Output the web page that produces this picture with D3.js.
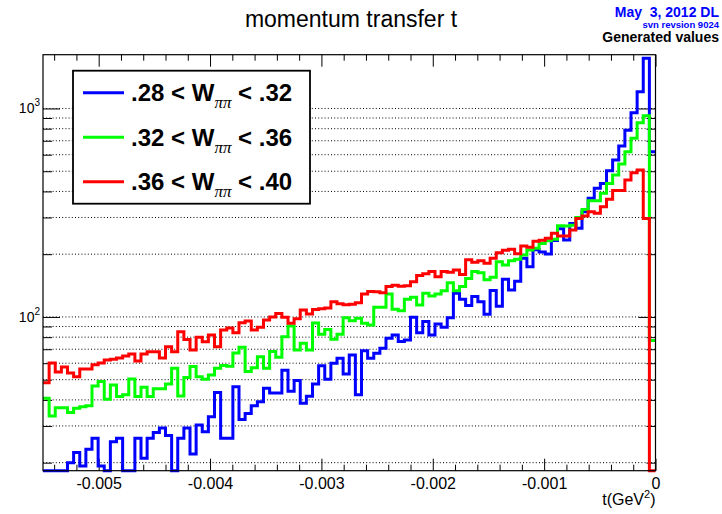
<!DOCTYPE html>
<html><head><meta charset="utf-8">
<script src="https://cdn.jsdelivr.net/npm/d3@7"></script>
<style>
body{margin:0;background:#fff}
svg{display:block}
text{font-family:"Liberation Sans",Arial,Helvetica,sans-serif}
</style>
</head><body>
<svg id="c" width="722" height="514"></svg>
<script>
// ---- data (100 bins from -0.0055 to 0) ----
const binLow = -0.0055, binHigh = 0, nBins = 100;
const blueVals = [17,17,17,17,20,22.4,19.3,23.2,26.2,19.3,
  17,25.2,26.2,17,17,26.2,21,26.2,27.9,29.3,
  27,17,26.2,29.3,22,30.3,28.1,33.2,43.4,26.2,
  26.2,46.3,32.2,34.4,37.5,39.2,45.5,43.2,43.2,55.5,
  44,49.5,38.5,41.6,47.7,58.4,50.3,60,63.4,53.2,
  65.7,42.3,68.9,63.4,67,70.8,79,82,76.2,77.6,
  99.7,84,95,82,92.6,89.2,99,130,121.6,113.5,
  125.5,118.4,103,134,112.5,151.6,134.8,148.5,191,174.3,
  210,205,200.6,232.4,265,234,281,266,320,371,
  414,437,502,566,661,787,954,1203,1740,620];
const greenVals = [40.7,33.5,36.7,36.7,34.8,36.5,37.1,37.5,46.7,49,
  40.3,47.2,41.5,42.3,50.4,41.5,46,41.5,45.2,45.2,
  47.7,56.7,41.8,51.2,57.9,51.7,50.3,52.7,56.7,58.5,
  58,67.2,71.5,54.7,57,64.5,56.7,68.2,64,80.4,
  90.5,69.5,74.8,69.5,93.6,82.5,87,78.2,82.5,99,
  96,98.6,93.3,91.5,111.3,111.3,128.9,108.9,107.2,121.6,
  124.3,114,130,126,129,133.7,146,133.7,139.8,153,
  165,163,150.7,155,184,177.5,186,189,198,209.7,
  213.5,225,232,236,274,273,275,300,328,361,
  361,392,437,480,542,620,719,854,922,77];
const redVals = [48.3,60.2,54.5,57.6,53.9,51.6,56.3,56.3,58.9,60.2,
  62.2,62.6,63.6,65,66.5,61.5,66.5,68,68,63.6,
  72,68,85,78,69.5,80,76,82,72,86.6,
  88.5,84,93.8,95.5,86.6,89.2,96.8,100,104,99.7,
  93.3,98,108,103.4,108.5,109.5,110.5,118.4,115.8,114.5,
  115,117.1,129,132.3,132,130.8,140,142,140.5,141,
  147.7,158,161,165,156,165,164,168,160,188,
  183,186,181,191,203,209,211,201,219,216,
  231,233,238.6,252,244.5,244.5,261.4,297,305,320,
  314,338,367,404,404,454,492,507,297,0];
const seriesNames = [".28 < W", ".32 < W", ".36 < W"];
const seriesTails = [" < .32", " < .36", " < .40"];
const seriesColors = ["#0000ff", "#00ff00", "#ff0000"];
const xMajorTicks = [-0.005, -0.004, -0.003, -0.002, -0.001, 0];
const yMajorTicks = [100, 1000];
const yMinorTicks = [20,30,40,50,60,70,80,90,200,300,400,500,600,700,800,900];

// ---- layout ----
const svg = d3.select("#c");
const L = 43, R = 655.5, T = 54.7, B = 470.7;
const x = d3.scaleLinear().domain([binLow, binHigh]).range([L, R]);
const y = d3.scaleLog().domain([18.3, 1811]).range([B, T]);
const xMinorTicks = d3.range(-27, 1).map(i => i * 0.0002).filter(d => Math.abs(Math.round(d * 1000) - d * 1000) > 1e-6);

// grid (horizontal dotted)
svg.append("g").selectAll("line").data(yMajorTicks.concat(yMinorTicks)).join("line")
  .attr("x1", L).attr("x2", R).attr("y1", d => y(d)).attr("y2", d => y(d))
  .attr("stroke", "#000").attr("stroke-width", 1).attr("stroke-dasharray", "1,2.2");

// axes via d3 axis generators (inward ticks)
function clean(g){ g.select(".domain").remove(); g.selectAll(".tick line").attr("stroke","#000").attr("stroke-width",1); return g; }
const fmt = d => d === 0 ? "0" : d.toFixed(3);
const gxb = svg.append("g").attr("transform", `translate(0,${B})`)
  .call(d3.axisBottom(x).tickValues(xMajorTicks).tickSize(-12).tickPadding(7).tickFormat(fmt));
clean(gxb).selectAll("text").attr("font-size", 16).attr("fill", "#000")
  .attr("font-family", '"Liberation Sans",Arial,sans-serif');
clean(svg.append("g").attr("transform", `translate(0,${B})`)
  .call(d3.axisBottom(x).tickValues(xMinorTicks).tickSize(-6).tickFormat("")));
clean(svg.append("g").attr("transform", `translate(0,${T})`)
  .call(d3.axisTop(x).tickValues(xMajorTicks).tickSize(-12).tickFormat("")));
clean(svg.append("g").attr("transform", `translate(0,${T})`)
  .call(d3.axisTop(x).tickValues(xMinorTicks).tickSize(-6).tickFormat("")));
clean(svg.append("g").attr("transform", `translate(${L},0)`)
  .call(d3.axisLeft(y).tickValues(yMajorTicks).tickSize(-17).tickFormat("")));
clean(svg.append("g").attr("transform", `translate(${L},0)`)
  .call(d3.axisLeft(y).tickValues(yMinorTicks).tickSize(-9).tickFormat("")));
clean(svg.append("g").attr("transform", `translate(${R},0)`)
  .call(d3.axisRight(y).tickValues(yMajorTicks).tickSize(-17).tickFormat("")));
clean(svg.append("g").attr("transform", `translate(${R},0)`)
  .call(d3.axisRight(y).tickValues(yMinorTicks).tickSize(-9).tickFormat("")));

// y labels 10^n
yMajorTicks.forEach(v => {
  const t = svg.append("text").attr("x", 40).attr("y", y(v) + 5).attr("text-anchor", "end")
    .attr("font-size", 14);
  t.append("tspan").text("10");
  t.append("tspan").attr("dy", -7).attr("font-size", 10).text(String(Math.round(Math.log10(v))));
});

// x title
const xt = svg.append("text").attr("x", R).attr("y", 505).attr("text-anchor", "end").attr("font-size", 16);
xt.append("tspan").text("t(GeV");
xt.append("tspan").attr("dy", -7).attr("font-size", 11).text("2");
xt.append("tspan").attr("dy", 7).text(")");

// histograms (step outlines)
const edge = k => binLow + (binHigh - binLow) * k / nBins;
const yc = v => (v <= y.domain()[0]) ? B : Math.max(T, y(v));
const line = d3.line().x(d => x(d[0])).y(d => yc(d[1]));
[blueVals, greenVals, redVals].forEach((vals, s) => {
  const pts = [];
  vals.forEach((v, k) => { pts.push([edge(k), v]); pts.push([edge(k + 1), v]); });
  svg.append("path").attr("d", line(pts)).attr("fill", "none")
    .attr("stroke", seriesColors[s]).attr("stroke-width", 3).attr("stroke-linejoin", "miter");
});

// frame
svg.append("rect").attr("x", L).attr("y", T).attr("width", R - L).attr("height", B - T)
  .attr("fill", "none").attr("stroke", "#000").attr("stroke-width", 1.2);

// legend
const lg = svg.append("g");
lg.append("rect").attr("x", 73).attr("y", 70.7).attr("width", 237).attr("height", 133)
  .attr("fill", "#fff").attr("stroke", "#000").attr("stroke-width", 1.8);
const legY = [92.7, 137.3, 181.7];
seriesNames.forEach((name, i) => {
  lg.append("line").attr("x1", 83).attr("x2", 124).attr("y1", legY[i]).attr("y2", legY[i])
    .attr("stroke", seriesColors[i]).attr("stroke-width", 3);
  const t = lg.append("text").attr("x", 131).attr("y", legY[i] + 8.5).attr("font-size", 24)
    .attr("font-weight", "bold").attr("fill", "#000");
  t.append("tspan").text(name);
  t.append("tspan").attr("dy", 7).attr("font-size", 17).attr("font-weight", "normal")
    .attr("font-style", "italic").attr("font-family", '"Liberation Serif","DejaVu Serif",serif').text("ππ");
  t.append("tspan").attr("dy", -7).text(seriesTails[i]);
});

// titles
svg.append("text").attr("x", 351).attr("y", 27).attr("text-anchor", "middle").attr("font-size", 23)
  .text("momentum transfer t");
svg.append("text").attr("x", 719).attr("y", 17).attr("text-anchor", "end").attr("font-size", 14)
  .attr("font-weight", "bold").attr("fill", "#0000ff").style("white-space", "pre").text("May  3, 2012 DL");
svg.append("text").attr("x", 719).attr("y", 28).attr("text-anchor", "end").attr("font-size", 9.5)
  .attr("font-weight", "bold").attr("fill", "#0000ff").text("svn revsion 9024");
svg.append("text").attr("x", 719).attr("y", 42).attr("text-anchor", "end").attr("font-size", 14)
  .attr("font-weight", "bold").attr("fill", "#000").text("Generated values");
</script>
</body></html>
